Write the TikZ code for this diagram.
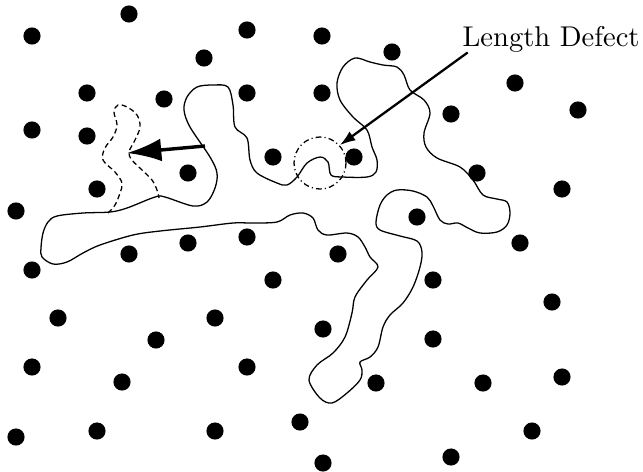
\documentclass[tikz,border=0pt]{standalone}
\usetikzlibrary{arrows.meta}
\begin{document}
\begin{tikzpicture}[x=0.35pt,y=-0.35pt,
  dot/.style={circle,fill=black,inner sep=0pt,minimum size=6pt},
  chain/.style={line width=0.45pt},
  dashchain/.style={line width=0.45pt,dash pattern=on 1.8pt off 1.2pt},
  defectcircle/.style={circle,draw,inner sep=0pt,minimum size=18.2pt,line width=0.45pt,dash pattern=on 2pt off 1.1pt on 0.4pt off 1.1pt},
  bigarrow/.style={line width=1.2pt,-{Latex[length=12pt,width=8pt]}},
  labelarrow/.style={line width=0.8pt,-{Latex[length=5.5pt,width=3.8pt]}}]
\useasboundingbox (0,0) rectangle (643,471);
% dots
\foreach \x/\y [count=\i] in {129/14,32/36,247/30,204/58,322/36,392/52,
  515/83,87/93,164/99,247/93,322/93,451/114,578/110,
  32/130,87/136,273/157,354/157,188/173,97/189,477/173,562/189,
  16/211,417/217,520/243,
  32/270,129/254,188/243,247/237,338/254,273/280,433/280,
  552/302,58/318,215/318,156/340,323/329,433/339,
  32/367,247/367,122/382,376/383,483/383,562/377,
  16/437,97/431,215/431,300/422,323/463,451/457,532/431}
  \node[dot] (d\i) at (\x,\y) {};
% closed polymer loop
\draw[chain] plot[smooth cycle,tension=0.55] coordinates {
 (57,216) (83,213) (110,212) (127,208) (155,197) (165,197) (193,206) (207,202)
 (215,188) (217,173) (210,157) (190,127) (184,110) (187,97) (197,87) (213,85)
 (228,87) (233,105) (235,127) (247,138) (250,160) (257,173) (277,183) (287,185)
 (297,177) (307,163) (320,157) (328,162) (331,175) (343,177) (367,177) (376,172)
 (377,160) (372,147) (367,130) (353,117) (340,100) (337,83) (343,67) (355,58)
 (370,62) (383,65) (397,67) (404,75) (410,90) (424,100) (430,113) (424,133)
 (426,147) (437,158) (460,167) (473,180) (483,195) (497,199) (507,202) (510,213)
 (507,225) (497,232) (480,233) (468,228) (458,223) (448,224) (440,220) (433,206)
 (427,197) (413,191) (397,190) (387,195) (380,205) (376,222) (380,230) (400,236)
 (417,241) (422,252) (420,267) (413,287) (403,303) (390,315) (383,327) (378,347)
 (370,357) (360,362) (362,370) (360,380) (347,393) (332,403) (320,398) (309,380)
 (317,365) (333,353) (345,337) (352,313) (355,297) (367,280) (378,267) (370,257)
 (365,247) (358,237) (347,233) (327,235) (318,230) (313,218) (303,213) (290,215)
 (277,222) (253,223) (233,223) (200,227) (160,231) (133,235) (100,245) (83,253)
 (67,262) (53,264) (42,257) (41,248) (43,233) (48,222)};
% dashed displaced segment
\draw[dashchain] plot[smooth,tension=0.6] coordinates {
 (108,213) (115,205) (120,193) (122,183) (115,172) (103,160) (105,148) (113,137)
 (117,125) (114,112) (118,105) (127,107) (137,115) (140,127) (135,140) (129,152)
 (132,160) (142,170) (152,180) (157,190) (159,198)};
% big arrow
\coordinate (atail) at (205,146);
\coordinate (ahead) at (127,153);
\draw[bigarrow] (atail) -- (ahead);
% defect circle and label
\node[defectcircle] (defect) at (320,163) {};
\node[anchor=base west,inner sep=0pt] (lbl) at (462,46) {Length Defect};
\draw[labelarrow] ([xshift=2pt]lbl.south west) -- (defect.42);
\end{tikzpicture}
\end{document}
